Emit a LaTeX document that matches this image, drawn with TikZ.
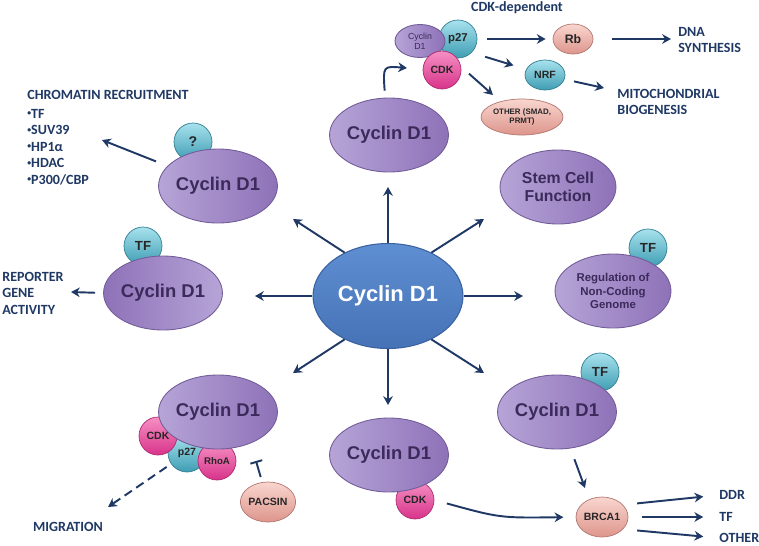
\documentclass[tikz,border=0pt]{standalone}
\usepackage{fontspec}
\setmainfont{Carlito}
\newfontfamily\arialf{Liberation Sans}
\usetikzlibrary{shapes.geometric,arrows.meta}

\definecolor{navy}{HTML}{1F3864}
\definecolor{purtxt}{HTML}{3B2A5A}
\definecolor{purL}{HTML}{B6A4D7}
\definecolor{purD}{HTML}{8E72B8}
\definecolor{purE}{HTML}{735D99}
\definecolor{blueL}{HTML}{5E8FD2}
\definecolor{blueD}{HTML}{4672B6}
\definecolor{blueE}{HTML}{3A62A0}
\definecolor{tealL}{HTML}{A8E2EE}
\definecolor{tealD}{HTML}{3E9DB3}
\definecolor{pinkL}{HTML}{F590C3}
\definecolor{pinkD}{HTML}{D8338A}
\definecolor{salL}{HTML}{F9D6CF}
\definecolor{salD}{HTML}{DD958C}

\newcommand{\sbul}{\raisebox{0.35ex}{\scalebox{0.55}{\textbullet}}}

\tikzset{
  arr/.style={draw=navy, line width=1.1pt, -{Stealth[length=5pt,width=5.5pt]}},
  inh/.style={draw=navy, line width=1.1pt, -{Bar[width=7pt]}},
  hub/.style={ellipse, draw=blueE, line width=0.6pt, top color=blueL, bottom color=blueD,
    minimum width=3cm, minimum height=2.1cm, inner sep=0pt, text=white,
    font=\arialf\bfseries\fontsize{12.5}{14}\selectfont},
  cyc/.style={ellipse, draw=purE, line width=0.5pt, left color=purL, right color=purD,
    minimum width=2.32cm, minimum height=1.48cm, inner sep=0pt, text=purtxt, align=center,
    font=\arialf\bfseries\fontsize{10.5}{12}\selectfont},
  bub/.style={circle, draw=tealD!80!black, line width=0.4pt, top color=tealL, bottom color=tealD,
    minimum size=0.76cm, inner sep=0pt, text=black!85,
    font=\arialf\bfseries\fontsize{7.5}{8}\selectfont},
  pnk/.style={bub, draw=pinkD!80!black, top color=pinkL, bottom color=pinkD,
    font=\arialf\bfseries\fontsize{6}{7}\selectfont},
  sal/.style={ellipse, draw=salD!80!black, line width=0.4pt, top color=salL, bottom color=salD,
    inner sep=0pt, text=black!85, align=center,
    font=\arialf\bfseries\fontsize{6}{7}\selectfont},
  lbl/.style={inner sep=0pt, text=navy, align=left,
    font=\bfseries\fontsize{8}{9.4}\selectfont}
}

\begin{document}
\begin{tikzpicture}[x=0.02cm, y=-0.02cm]
\useasboundingbox (0,0) rectangle (759,545);

% small partners first, the big ellipses sit on top of them
\node[bub, font=\arialf\bfseries\fontsize{8}{9}\selectfont] (qm) at (193,142) {?};
\node[bub] (tfL) at (143,246) {TF};
\node[bub] (tfReg) at (648,248) {TF};
\node[bub] (tfBR) at (600,372) {TF};
\node[pnk] (cdkBot) at (415,500) {CDK};
\node[bub, font=\arialf\bfseries\fontsize{6}{7}\selectfont] (p27BL) at (187,453) {p27};
\node[pnk] (cdkBL) at (158,436) {CDK};
\node[pnk, font=\arialf\bfseries\fontsize{5.5}{6}\selectfont] (rhoa) at (217,461) {RhoA};

% ellipses
\node[hub] (c0) at (388,296) {Cyclin D1};
\node[cyc] (cTop) at (389,135) {Cyclin D1};
\node[cyc] (cUL) at (218,186) {Cyclin D1};
\node[cyc, left color=purD, right color=purL] (cL) at (163,293) {Cyclin D1};
\node[cyc] (cBL) at (218,412) {Cyclin D1};
\node[cyc] (cBot) at (389,455) {Cyclin D1};
\node[cyc] (cBR) at (557,412) {Cyclin D1};
\node[cyc, font=\arialf\bfseries\fontsize{9}{10}\selectfont] (cStem) at (558,187) {Stem Cell\\Function};
\node[cyc, font=\arialf\bfseries\fontsize{6.5}{7.6}\selectfont] (cReg) at (613,291) {Regulation of\\Non-Coding\\Genome};

% CDK-dependent complex
\node[bub, font=\arialf\bfseries\fontsize{6.5}{7}\selectfont] (p27) at (458,39) {p27};
\node[cyc, minimum width=1cm, minimum height=0.66cm, font=\arialf\fontsize{5}{5.5}\selectfont] (cCx) at (420,41) {Cyclin\\D1};
\node[pnk] (cdk) at (442,70) {CDK};
\node[sal, minimum width=0.8cm, minimum height=0.6cm, font=\arialf\bfseries\fontsize{7}{8}\selectfont] (rb) at (573,39) {Rb};
\node[bub, ellipse, minimum width=0.8cm, minimum height=0.6cm, font=\arialf\bfseries\fontsize{6}{7}\selectfont] (nrf) at (545,75) {NRF};
\node[sal, minimum width=1.64cm, minimum height=0.72cm, font=\arialf\bfseries\fontsize{4.5}{5.5}\selectfont] (oth) at (522,117) {OTHER (SMAD,\\PRMT)};
\node[sal, minimum width=1.04cm, minimum height=0.8cm] (brca) at (602,517) {BRCA1};
\node[sal, minimum width=1.04cm, minimum height=0.8cm] (pacsin) at (268,502) {PACSIN};

% labels
\node[lbl, anchor=base] (cdkdep) at (517,11) {CDK-dependent};
\node[lbl, anchor=west] (dna) at (678,40) {DNA\\SYNTHESIS};
\node[lbl, anchor=west] (mito) at (617,102) {MITOCHONDRIAL\\BIOGENESIS};
\node[lbl, anchor=west] (chrom) at (27,95) {CHROMATIN RECRUITMENT};
\node[lbl, anchor=west] (chromlist) at (27,147) {\sbul TF\\\sbul SUV39\\\sbul HP1α\\\sbul HDAC\\\sbul P300/CBP};
\node[lbl, anchor=west] (rep) at (2,293) {REPORTER\\GENE\\ACTIVITY};
\node[lbl] (mig) at (68,527) {MIGRATION};
\node[lbl, anchor=west] (ddr) at (719,495) {DDR};
\node[lbl, anchor=west] (tfout) at (719,517) {TF};
\node[lbl, anchor=west] (othout) at (719,538) {OTHER};

% free ends of arrows
\coordinate (tUp) at (388,187);
\coordinate (tUL) at (293,219);
\coordinate (tUR) at (484,219);
\coordinate (tL) at (255,296);
\coordinate (tR) at (523,296);
\coordinate (tDL) at (293,373);
\coordinate (tDn) at (388,405);
\coordinate (tDR) at (484,373);
\coordinate (tChrom) at (102,140);
\coordinate (tRep) at (71,292);
\coordinate (tCx) at (407,68);
\coordinate (tMito) at (604,88);
\coordinate (tOth) at (493,95);
\coordinate (tBr) at (585,488);
\coordinate (tInh) at (256,461);
\coordinate (tMig) at (108,507);

% from the hub
\draw[arr] (c0.north) -- (tUp);
\draw[arr] (c0.135) -- (tUL);
\draw[arr] (c0.45) -- (tUR);
\draw[arr] (c0.west) -- (tL);
\draw[arr] (c0.east) -- (tR);
\draw[arr] (c0.225) -- (tDL);
\draw[arr] (c0.south) -- (tDn);
\draw[arr] (c0.315) -- (tDR);

% outputs
\draw[arr, shorten <=7pt] (cUL) -- (tChrom);
\draw[arr, shorten <=4.5pt] (cL.west) -- (tRep);
\draw[arr, shorten <=4pt] (cTop.96) .. controls (383,66) .. (tCx);
\draw[arr, shorten <=5.5pt, shorten >=4pt] (p27.east) -- (rb.west);
\draw[arr, shorten <=10.5pt, shorten >=4pt] (rb.east) -- (rb.east -| dna.west);
\draw[arr, shorten <=8pt, shorten >=7.5pt] (p27.south east) -- (nrf);
\draw[arr, shorten <=5.5pt] (nrf) -- (tMito);
\draw[arr, shorten <=6pt] (cdk.10) -- (tOth);
\draw[arr, shorten <=6.5pt] (cBR) -- (tBr);
\draw[arr, shorten <=7.4pt, shorten >=7pt] (cdkBot.east) .. controls (500,518) .. (brca.west);
\draw[arr, shorten <=8pt, shorten >=9pt] (brca.30) -- (ddr.west);
\draw[arr, shorten <=8pt, shorten >=9pt] (brca.east) -- (brca.east -| tfout.west);
\draw[arr, shorten <=8pt, shorten >=9pt] (brca.-30) -- (othout.west);
\draw[inh, shorten <=3pt] (pacsin) -- (tInh);
\draw[arr, dash pattern=on 5pt off 3pt, shorten <=3pt] (p27BL) -- (tMig);
\end{tikzpicture}
\end{document}
